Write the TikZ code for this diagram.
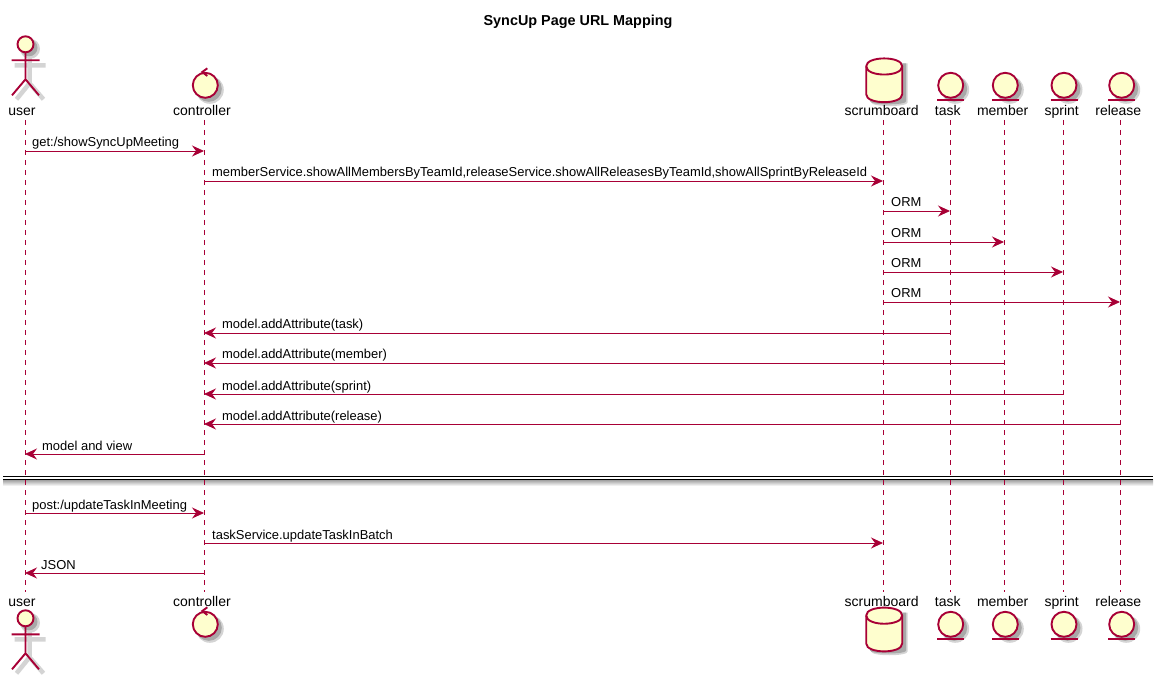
\documentclass[tikz,border=0pt]{standalone}
\usepackage{fontspec}
\usepackage{xcolor}
\setmainfont{Liberation Sans}
\usetikzlibrary{arrows.meta,positioning}
\definecolor{umlline}{HTML}{A80036}
\definecolor{umlfill}{HTML}{FEFECE}
\definecolor{umlshade}{HTML}{A8A8A8}
\definecolor{umlsoft}{HTML}{D4D4D4}
\tikzset{
  life/.style={umlline,line width=0.9pt,dash pattern=on 5pt off 5pt},
  msg/.style={umlline,line width=0.9pt,-{Stealth[length=12pt,width=11pt,inset=4pt]}},
  lbl/.style={anchor=base west,inner sep=0pt,font=\fontsize{12.95}{15}\selectfont},
  partname/.style={anchor=base,inner sep=0pt,font=\fontsize{14}{16}\selectfont},
  partbody/.style={umlline,line width=1.9pt,fill=umlfill},
  partline/.style={umlline,line width=1.9pt},
  shadeline/.style={umlsoft,line width=4.5pt},
  softfill/.style={fill=umlsoft},
  shadefill/.style={fill=umlshade},
  divline/.style={black,line width=1pt},
  actorpic/.pic={
    \draw[shadeline] (-11,21) -- (20,21) (4,10) -- (4,39) -- (-9,55) (4,39) -- (18,55);
    \fill[softfill] (4.5,4.5) circle (10);
    \fill[shadefill] (3.5,3.5) circle (8.5);
    \draw[partbody] (0,0) circle (8);
    \draw[partline] (-14,16) -- (14,16) (0,8) -- (0,35) -- (-13.5,51) (0,35) -- (13.5,51);
  },
  controlpic/.pic={
    \fill[softfill] (4.5,4.5) circle (14);
    \fill[shadefill] (3.5,3.5) circle (13);
    \draw[partbody] (0,0) circle (12.5);
    \draw[partline] (2,-17) -- (-3,-13.3) -- (2,-9.3);
  },
  entitypic/.pic={
    \fill[softfill] (4.5,4.5) circle (14);
    \fill[shadefill] (3.5,3.5) circle (13);
    \draw[partbody] (0,0) circle (12.5);
    \draw[partline] (-13.5,14.7) -- (13.5,14.7);
  },
  dbpic/.pic={
    \fill[softfill] (-13,-17) -- (-13,22) .. controls (-13,27) and (23.5,27) .. (23.5,22) -- (23.5,-17) -- cycle;
    \fill[shadefill] (-14,-17) -- (-14,21) .. controls (-14,25) and (22,25) .. (22,21) -- (22,-17) -- cycle;
    \draw[partbody] (-18,-14) .. controls (-18,-24.5) and (18,-24.5) .. (18,-14) -- (18,14) .. controls (18,24.5) and (-18,24.5) .. (-18,14) -- cycle;
    \draw[partline] (-18,-14) .. controls (-18,-3) and (18,-3) .. (18,-14);
  }
}
\begin{document}
\begin{tikzpicture}[x=1pt,y=-1pt]
    \useasboundingbox (0,0) rectangle (1163,679);

    \node[anchor=base,inner sep=0pt,font=\fontsize{14.4}{16}\selectfont\bfseries] (title) at (578,25.5) {SyncUp Page URL Mapping};

    % divider shadow goes under the lifelines
    \coordinate (sepL) at (3,476.5);
    \coordinate (sepR) at (1153,476.5);
    \coordinate (sepLb) at (3,479.8);
    \coordinate (sepRb) at (1153,479.8);
    \coordinate (sepSh) at (1153,485);
    \shade[top color=gray!75,bottom color=gray!12] (sepLb) rectangle (sepSh);

    % lifelines
    \foreach \who/\xx in {user/25,controller/204,scrumboard/883,task/950,member/1004,sprint/1063,release/1120}{
        \coordinate (\who top) at (\xx,120);
        \coordinate (\who bot) at (\xx,592);
        \draw[life] (\who top) -- (\who bot);
        \foreach \n/\yy in {1/151,2/181,3/211,4/242,5/272,6/302,7/333,8/363,9/394,10/424,11/454,12/513,13/543,14/573}{
            \coordinate (\who\n) at (\xx,\yy);
        }
    }

    % divider
    \fill[white] (sepL) rectangle (sepRb);
    \draw[divline] (sepL) -- (sepR);
    \draw[divline] (sepLb) -- (sepRb);

    % heads
    \pic at (25.5,44.3) {actorpic};
    \pic at (205.3,85.3) {controlpic};
    \pic at (884.2,80.3) {dbpic};
    \pic at (950.7,85.3) {entitypic};
    \pic at (1005.3,85.3) {entitypic};
    \pic at (1064,85.3) {entitypic};
    \pic at (1121.7,85.3) {entitypic};

    \node[partname] (userA) at (22,116) {user};
    \node[partname] (controllerA) at (202,116) {controller};
    \node[partname] (scrumboardA) at (881.7,116) {scrumboard};
    \node[partname] (taskA) at (947.7,116) {task};
    \node[partname] (memberA) at (1002.7,116) {member};
    \node[partname] (sprintA) at (1061.7,116) {sprint};
    \node[partname] (releaseA) at (1118.3,116) {release};

    % feet
    \pic at (25.5,618.3) {actorpic};
    \pic at (205.3,624.3) {controlpic};
    \pic at (884.2,629.5) {dbpic};
    \pic at (950.7,624.3) {entitypic};
    \pic at (1005.3,624.3) {entitypic};
    \pic at (1064,624.3) {entitypic};
    \pic at (1121.7,624.3) {entitypic};

    \node[partname] (userB) at (22,606) {user};
    \node[partname] (controllerB) at (202,606) {controller};
    \node[partname] (scrumboardB) at (881.7,606) {scrumboard};
    \node[partname] (taskB) at (947.7,606) {task};
    \node[partname] (memberB) at (1002.7,606) {member};
    \node[partname] (sprintB) at (1061.7,606) {sprint};
    \node[partname] (releaseB) at (1118.3,606) {release};

    % messages
    \draw[msg] (user1) -- (controller1);
    \draw[msg] (controller2) -- (scrumboard2);
    \draw[msg] (scrumboard3) -- (task3);
    \draw[msg] (scrumboard4) -- (member4);
    \draw[msg] (scrumboard5) -- (sprint5);
    \draw[msg] (scrumboard6) -- (release6);
    \draw[msg] (task7) -- (controller7);
    \draw[msg] (member8) -- (controller8);
    \draw[msg] (sprint9) -- (controller9);
    \draw[msg] (release10) -- (controller10);
    \draw[msg] (controller11) -- (user11);
    \draw[msg] (user12) -- (controller12);
    \draw[msg] (controller13) -- (scrumboard13);
    \draw[msg] (controller14) -- (user14);

    \node[lbl] (m1) at ([xshift=7pt,yshift=4pt]user1) {get:/showSyncUpMeeting};
    \node[lbl] (m2) at ([xshift=8pt,yshift=4pt]controller2) {memberService.showAllMembersByTeamId,releaseService.showAllReleasesByTeamId,showAllSprintByReleaseId};
    \node[lbl] (m3) at ([xshift=8pt,yshift=4pt]scrumboard3) {ORM};
    \node[lbl] (m4) at ([xshift=8pt,yshift=4pt]scrumboard4) {ORM};
    \node[lbl] (m5) at ([xshift=8pt,yshift=4pt]scrumboard5) {ORM};
    \node[lbl] (m6) at ([xshift=8pt,yshift=4pt]scrumboard6) {ORM};
    \node[lbl] (m7) at ([xshift=18pt,yshift=4pt]controller7) {model.addAttribute(task)};
    \node[lbl] (m8) at ([xshift=18pt,yshift=4pt]controller8) {model.addAttribute(member)};
    \node[lbl] (m9) at ([xshift=18pt,yshift=4pt]controller9) {model.addAttribute(sprint)};
    \node[lbl] (m10) at ([xshift=18pt,yshift=4pt]controller10) {model.addAttribute(release)};
    \node[lbl] (m11) at ([xshift=17pt,yshift=4pt]user11) {model and view};
    \node[lbl] (m12) at ([xshift=7pt,yshift=4pt]user12) {post:/updateTaskInMeeting};
    \node[lbl] (m13) at ([xshift=8pt,yshift=4pt]controller13) {taskService.updateTaskInBatch};
    \node[lbl] (m14) at ([xshift=16pt,yshift=4pt]user14) {JSON};
\end{tikzpicture}
\end{document}
